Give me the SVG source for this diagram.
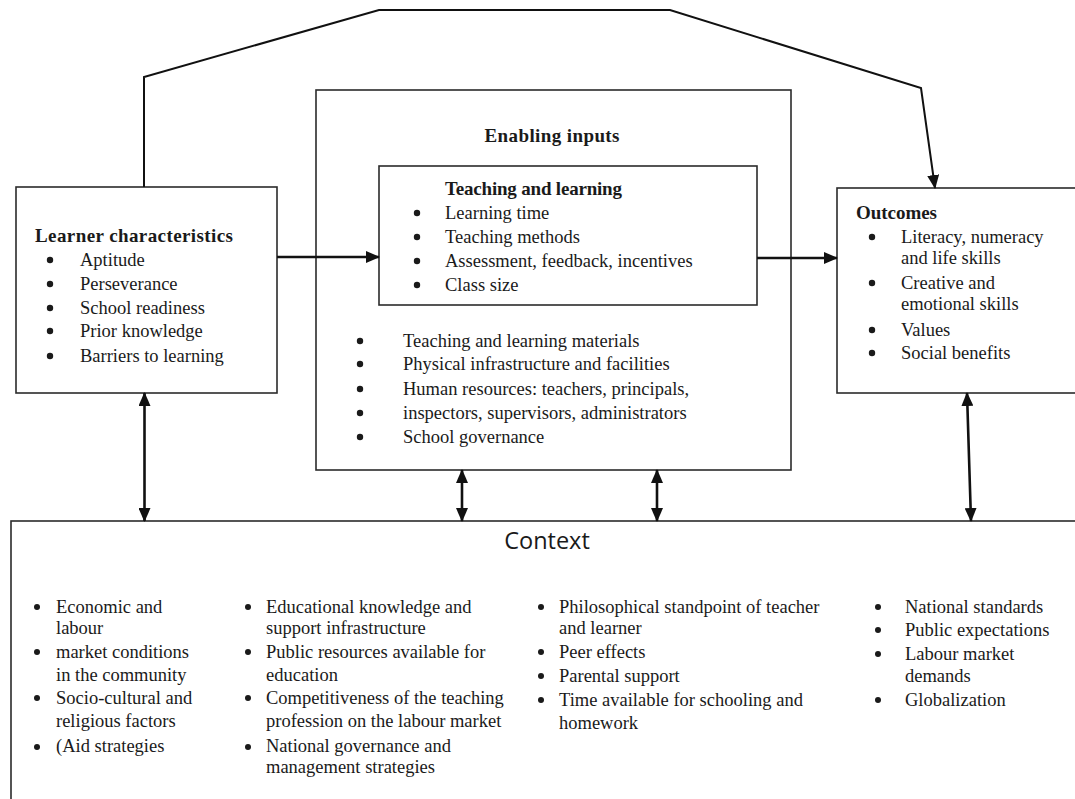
<svg xmlns="http://www.w3.org/2000/svg" width="1075" height="799" viewBox="0 0 1075 799">
<style>
.box{fill:none;stroke:#2b2b2b;stroke-width:1.6}
.t{font-family:"Liberation Serif","Times New Roman",serif;font-size:18.5px;fill:#1a1a1a}
.b{font-family:"Liberation Serif","Times New Roman",serif;font-size:19px;font-weight:bold;fill:#1a1a1a}
.ctx{font-family:"Open Sans","Liberation Sans",sans-serif;font-size:23.5px;fill:#1a1a1a}
.dot{fill:#1a1a1a}
.con{fill:none;stroke:#111;stroke-width:2.6}
.thin{fill:none;stroke:#111;stroke-width:2}
</style>
<defs>
<marker id="arr" markerUnits="userSpaceOnUse" markerWidth="14" markerHeight="12" refX="13" refY="6" orient="auto-start-reverse" viewBox="0 0 14 12">
<path d="M0,0 L14,6 L0,12 z" fill="#111"/>
</marker>
</defs>
<rect width="1075" height="799" fill="#fff"/>

<g id="learner">
<rect class="box" x="16" y="187" width="261" height="206"/>
<text class="b" x="35" y="242" textLength="198">Learner characteristics</text>
<g class="dot"><circle cx="50" cy="260" r="3.2"/><circle cx="50" cy="284" r="3.2"/><circle cx="50" cy="308" r="3.2"/><circle cx="50" cy="331" r="3.2"/><circle cx="50" cy="356" r="3.2"/></g>
<text class="t" x="80" y="266">Aptitude</text>
<text class="t" x="80" y="290">Perseverance</text>
<text class="t" x="80" y="314">School readiness</text>
<text class="t" x="80" y="337">Prior knowledge</text>
<text class="t" x="80" y="362">Barriers to learning</text>
</g>

<g id="enabling">
<rect class="box" x="316" y="90" width="475" height="380"/>
<text class="b" x="552" y="142" text-anchor="middle" textLength="135">Enabling inputs</text>
<g class="dot"><circle cx="360" cy="341" r="3.2"/><circle cx="360" cy="364" r="3.2"/><circle cx="360" cy="389" r="3.2"/><circle cx="360" cy="413" r="3.2"/><circle cx="360" cy="437" r="3.2"/></g>
<text class="t" x="403" y="347">Teaching and learning materials</text>
<text class="t" x="403" y="370">Physical infrastructure and facilities</text>
<text class="t" x="403" y="395">Human resources: teachers, principals,</text>
<text class="t" x="403" y="419">inspectors, supervisors, administrators</text>
<text class="t" x="403" y="443">School governance</text>
</g>

<g id="teaching">
<rect class="box" x="379" y="166" width="378" height="139"/>
<text class="b" x="445" y="195" textLength="177">Teaching and learning</text>
<g class="dot"><circle cx="417" cy="213" r="3.2"/><circle cx="417" cy="237" r="3.2"/><circle cx="417" cy="261" r="3.2"/><circle cx="417" cy="285" r="3.2"/></g>
<text class="t" x="445" y="219">Learning time</text>
<text class="t" x="445" y="243">Teaching methods</text>
<text class="t" x="445" y="267">Assessment, feedback, incentives</text>
<text class="t" x="445" y="291">Class size</text>
</g>

<g id="outcomes">
<rect class="box" x="837" y="188" width="260" height="205"/>
<text class="b" x="856" y="219" textLength="81">Outcomes</text>
<g class="dot"><circle cx="872" cy="237" r="3.2"/><circle cx="872" cy="283" r="3.2"/><circle cx="872" cy="330" r="3.2"/><circle cx="872" cy="353" r="3.2"/></g>
<text class="t" x="901" y="243">Literacy, numeracy</text>
<text class="t" x="901" y="264">and life skills</text>
<text class="t" x="901" y="289">Creative and</text>
<text class="t" x="901" y="310">emotional skills</text>
<text class="t" x="901" y="336">Values</text>
<text class="t" x="901" y="359">Social benefits</text>
</g>

<g id="context">
<rect class="box" x="11" y="521" width="1090" height="300"/>
<text class="ctx" x="547" y="549" text-anchor="middle">Context</text>
<g class="dot">
<circle cx="37" cy="607" r="3"/><circle cx="37" cy="652" r="3"/><circle cx="37" cy="698" r="3"/><circle cx="37" cy="747" r="3"/>
<circle cx="248" cy="607" r="3"/><circle cx="248" cy="652" r="3"/><circle cx="248" cy="698" r="3"/><circle cx="248" cy="747" r="3"/>
<circle cx="541" cy="607" r="3"/><circle cx="541" cy="652" r="3"/><circle cx="541" cy="676" r="3"/><circle cx="541" cy="700" r="3"/>
<circle cx="878" cy="607" r="3"/><circle cx="878" cy="630" r="3"/><circle cx="878" cy="654" r="3"/><circle cx="878" cy="700" r="3"/>
</g>
<text class="t" x="56" y="613">Economic and</text>
<text class="t" x="56" y="634">labour</text>
<text class="t" x="56" y="658">market conditions</text>
<text class="t" x="56" y="681">in the community</text>
<text class="t" x="56" y="704">Socio-cultural and</text>
<text class="t" x="56" y="727">religious factors</text>
<text class="t" x="56" y="752">(Aid strategies</text>
<text class="t" x="266" y="613">Educational knowledge and</text>
<text class="t" x="266" y="634">support infrastructure</text>
<text class="t" x="266" y="658">Public resources available for</text>
<text class="t" x="266" y="681">education</text>
<text class="t" x="266" y="704">Competitiveness of the teaching</text>
<text class="t" x="266" y="727">profession on the labour market</text>
<text class="t" x="266" y="752">National governance and</text>
<text class="t" x="266" y="773">management strategies</text>
<text class="t" x="559" y="613">Philosophical standpoint of teacher</text>
<text class="t" x="559" y="634">and learner</text>
<text class="t" x="559" y="658">Peer effects</text>
<text class="t" x="559" y="682">Parental support</text>
<text class="t" x="559" y="706">Time available for schooling and</text>
<text class="t" x="559" y="729">homework</text>
<text class="t" x="905" y="613">National standards</text>
<text class="t" x="905" y="636">Public expectations</text>
<text class="t" x="905" y="660">Labour market</text>
<text class="t" x="905" y="682">demands</text>
<text class="t" x="905" y="706">Globalization</text>
</g>

<g id="connectors">
<path class="thin" d="M144,187 L144,77 L379,10 L670,10 L921,88 L935,188" marker-end="url(#arr)"/>
<line class="con" x1="277" y1="257" x2="379" y2="257" stroke-width="3" marker-end="url(#arr)"/>
<line class="con" x1="757" y1="258" x2="837" y2="258" stroke-width="3" marker-end="url(#arr)"/>
<line class="con" x1="144.5" y1="393" x2="144.5" y2="521" marker-start="url(#arr)" marker-end="url(#arr)"/>
<line class="con" x1="462" y1="470" x2="462" y2="521" marker-start="url(#arr)" marker-end="url(#arr)"/>
<line class="con" x1="657" y1="470" x2="657" y2="521" marker-start="url(#arr)" marker-end="url(#arr)"/>
<line class="con" x1="967" y1="393" x2="971" y2="521" marker-start="url(#arr)" marker-end="url(#arr)"/>
</g>
</svg>
